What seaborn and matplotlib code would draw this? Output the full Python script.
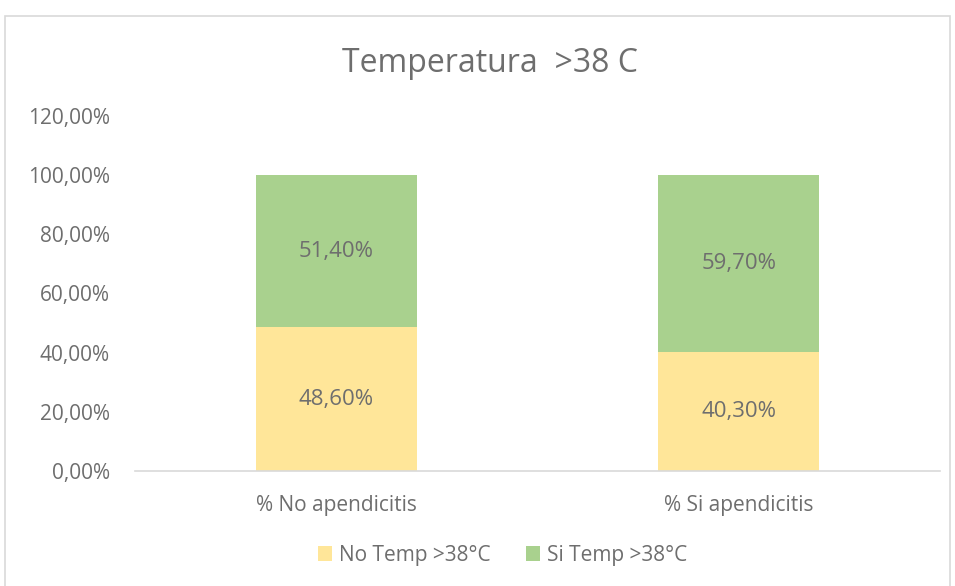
import matplotlib
matplotlib.use("Agg")
import matplotlib.pyplot as plt
import seaborn as sns
import pandas as pd
from matplotlib.patches import Patch, Rectangle
from matplotlib.ticker import FuncFormatter

categories = ["% No apendicitis", "% Si apendicitis"]
no_temp = [48.6, 40.3]
si_temp = [51.4, 59.7]
series_names = ["No Temp >38°C", "Si Temp >38°C"]
title = "Temperatura  >38 C"

yellow = "#FFE699"
green = "#A9D18E"
txt = "#6E6E6E"

sns.set_theme(style="white")
plt.rcParams["font.family"] = ["Open Sans", "DejaVu Sans"]

df = pd.DataFrame({
    "cat": categories,
    "no": no_temp,
    "si": si_temp,
})
df["total"] = df["no"] + df["si"]

fig = plt.figure(figsize=(9.55, 5.86), dpi=100)
ax = fig.add_axes([135/955, 1-471/586, (940-135)/955, (471-116)/586])

sns.barplot(data=df, x="cat", y="total", color=green, saturation=1, width=0.4, ax=ax, linewidth=0)
sns.barplot(data=df, x="cat", y="no", color=yellow, saturation=1, width=0.4, ax=ax, linewidth=0)

ax.set_ylim(0, 120)
ax.set_yticks([0, 20, 40, 60, 80, 100, 120])
ax.yaxis.set_major_formatter(FuncFormatter(lambda v, p: f"{v:.2f}".replace(".", ",") + "%"))
ax.set_xlabel("")
ax.set_ylabel("")
ax.tick_params(axis="both", length=0, labelsize=15, colors=txt)
ax.tick_params(axis="y", pad=18)
ax.tick_params(axis="x", pad=17)
for s in ["top", "right", "left"]:
    ax.spines[s].set_visible(False)
ax.spines["bottom"].set_color("#D9D9D9")
ax.spines["bottom"].set_linewidth(1.2)

for i in range(len(categories)):
    ax.text(i, no_temp[i] / 2, f"{no_temp[i]:.2f}".replace(".", ",") + "%",
            ha="center", va="center", fontsize=16, color=txt)
    ax.text(i, no_temp[i] + si_temp[i] / 2, f"{si_temp[i]:.2f}".replace(".", ",") + "%",
            ha="center", va="center", fontsize=16, color=txt)

fig.text(490/955, 1-63/586, title, ha="center", va="center", fontsize=23, color=txt)

handles = [Patch(facecolor=yellow, edgecolor="none"), Patch(facecolor=green, edgecolor="none")]
fig.legend(handles, series_names, loc="center", bbox_to_anchor=(0.526, 1-555/586), ncol=2,
           frameon=False, fontsize=15, handlelength=0.7, handleheight=0.7,
           handletextpad=0.3, columnspacing=1.7, labelcolor=txt)

fig.patches.append(Rectangle((5/955, -0.01), (950-5)/955, 1-16/586 + 0.01,
                             transform=fig.transFigure, fill=False,
                             edgecolor="#D9D9D9", linewidth=1.2))

fig.savefig("out.png", dpi=100)
